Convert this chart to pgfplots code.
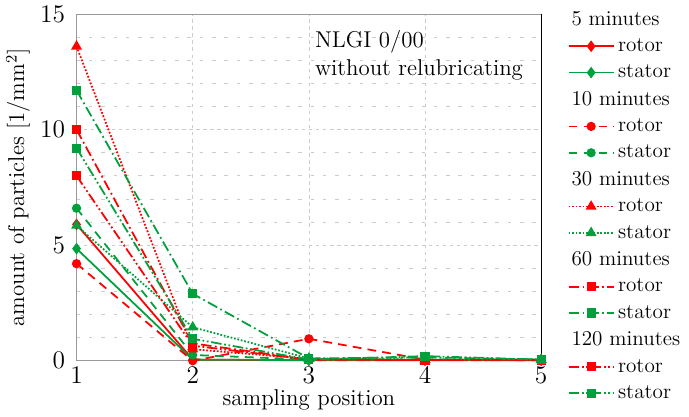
\documentclass[border=0pt]{standalone}
\usepackage{pgfplots}
\pgfplotsset{compat=1.18}
\definecolor{cred}{RGB}{255,0,0}
\definecolor{cgreen}{RGB}{0,160,60}
\begin{document}
\begin{tikzpicture}
\begin{axis}[
  scale only axis,
  width=264pt, height=197pt,
  xmin=1, xmax=5, ymin=0, ymax=15,
  xtick={1,2,3,4,5}, ytick={0,5,10,15},
  minor ytick={1,2,3,4,6,7,8,9,11,12,13,14},
  major tick length=0pt, minor tick length=0pt,
  grid=both,
  major grid style={gray!40, dash pattern=on 2pt off 2pt, line width=0.4pt},
  minor grid style={gray!40, dash pattern=on 2pt off 5pt, line width=0.4pt},
  axis line style={gray!80},
  xlabel={sampling position},
  ylabel={amount of particles [1/mm\textsuperscript{2}]},
  xlabel style={yshift=3pt},
  ylabel style={yshift=-1pt},
  tick label style={font=\fontsize{14}{16}\selectfont},
  label style={font=\fontsize{13}{15}\selectfont},
  yticklabel style={xshift=-3pt},
  clip=false,
  every axis plot/.append style={line width=1pt, mark size=2.1pt, mark options={solid}},
  legend style={at={(1.045,1.03)}, anchor=north west, draw=none, fill=none,
     font=\large, row sep=2.1pt, cells={anchor=west}},
  legend image code/.code={\draw[mark repeat=2,mark phase=2,#1] plot coordinates {(0cm,0cm) (0.45cm,0cm) (0.9cm,0cm)};},
]
\addlegendimage{empty legend}\addlegendentry{\hspace*{-0.93cm}5 minutes}
\addplot[cred, solid, mark=diamond*, mark size=2.5pt] coordinates {(1,5.9)(2,0.05)(3,0.02)(4,0.02)(5,0.02)};
\addlegendentry{rotor}
\addplot[cgreen, solid, mark=diamond*, mark size=2.5pt] coordinates {(1,4.85)(2,0.05)(3,0.03)(4,0.03)(5,0.03)};
\addlegendentry{stator}
\addlegendimage{empty legend}\addlegendentry{\hspace*{-0.93cm}10 minutes}
\addplot[cred, dash pattern=on 5pt off 3.5pt, mark=*] coordinates {(1,4.2)(2,0)(3,0.95)(4,0.05)(5,0.02)};
\addlegendentry{rotor}
\addplot[cgreen, dash pattern=on 5pt off 3.5pt, mark=*] coordinates {(1,6.6)(2,0.25)(3,0.05)(4,0.05)(5,0.05)};
\addlegendentry{stator}
\addlegendimage{empty legend}\addlegendentry{\hspace*{-0.93cm}30 minutes}
\addplot[cred, dash pattern=on 1pt off 1pt, mark=triangle*, mark size=2.6pt] coordinates {(1,13.6)(2,0.5)(3,0.08)(4,0.03)(5,0.03)};
\addlegendentry{rotor}
\addplot[cgreen, dash pattern=on 1pt off 1pt, mark=triangle*, mark size=2.6pt] coordinates {(1,5.85)(2,1.45)(3,0.1)(4,0.05)(5,0.05)};
\addlegendentry{stator}
\addlegendimage{empty legend}\addlegendentry{\hspace*{-0.93cm}60 minutes}
\addplot[cred, dash pattern=on 6pt off 2pt on 1pt off 2pt, mark=square*] coordinates {(1,10.0)(2,0.75)(3,0.05)(4,0.03)(5,0.03)};
\addlegendentry{rotor}
\addplot[cgreen, dash pattern=on 6pt off 2pt on 1pt off 2pt, mark=square*] coordinates {(1,11.7)(2,2.9)(3,0.1)(4,0.15)(5,0.05)};
\addlegendentry{stator}
\addlegendimage{empty legend}\addlegendentry{\hspace*{-0.93cm}120 minutes}
\addplot[cred, dash pattern=on 6pt off 1.5pt on 1pt off 1.5pt on 1pt off 1.5pt, mark=square*] coordinates {(1,8.0)(2,0.65)(3,0.05)(4,0.03)(5,0.03)};
\addlegendentry{rotor}
\addplot[cgreen, dash pattern=on 6pt off 1.5pt on 1pt off 1.5pt on 1pt off 1.5pt, mark=square*] coordinates {(1,9.2)(2,0.95)(3,0.05)(4,0.2)(5,0.05)};
\addlegendentry{stator}
\node[anchor=north west, align=left, font=\fontsize{13}{16}\selectfont, inner sep=0pt] at (axis cs:3.05,14.3) {NLGI 0/00\\without relubricating};
\draw[black, line width=0.6pt] (axis cs:5,0) -- (axis cs:5,15);
\end{axis}
\end{tikzpicture}
\end{document}
